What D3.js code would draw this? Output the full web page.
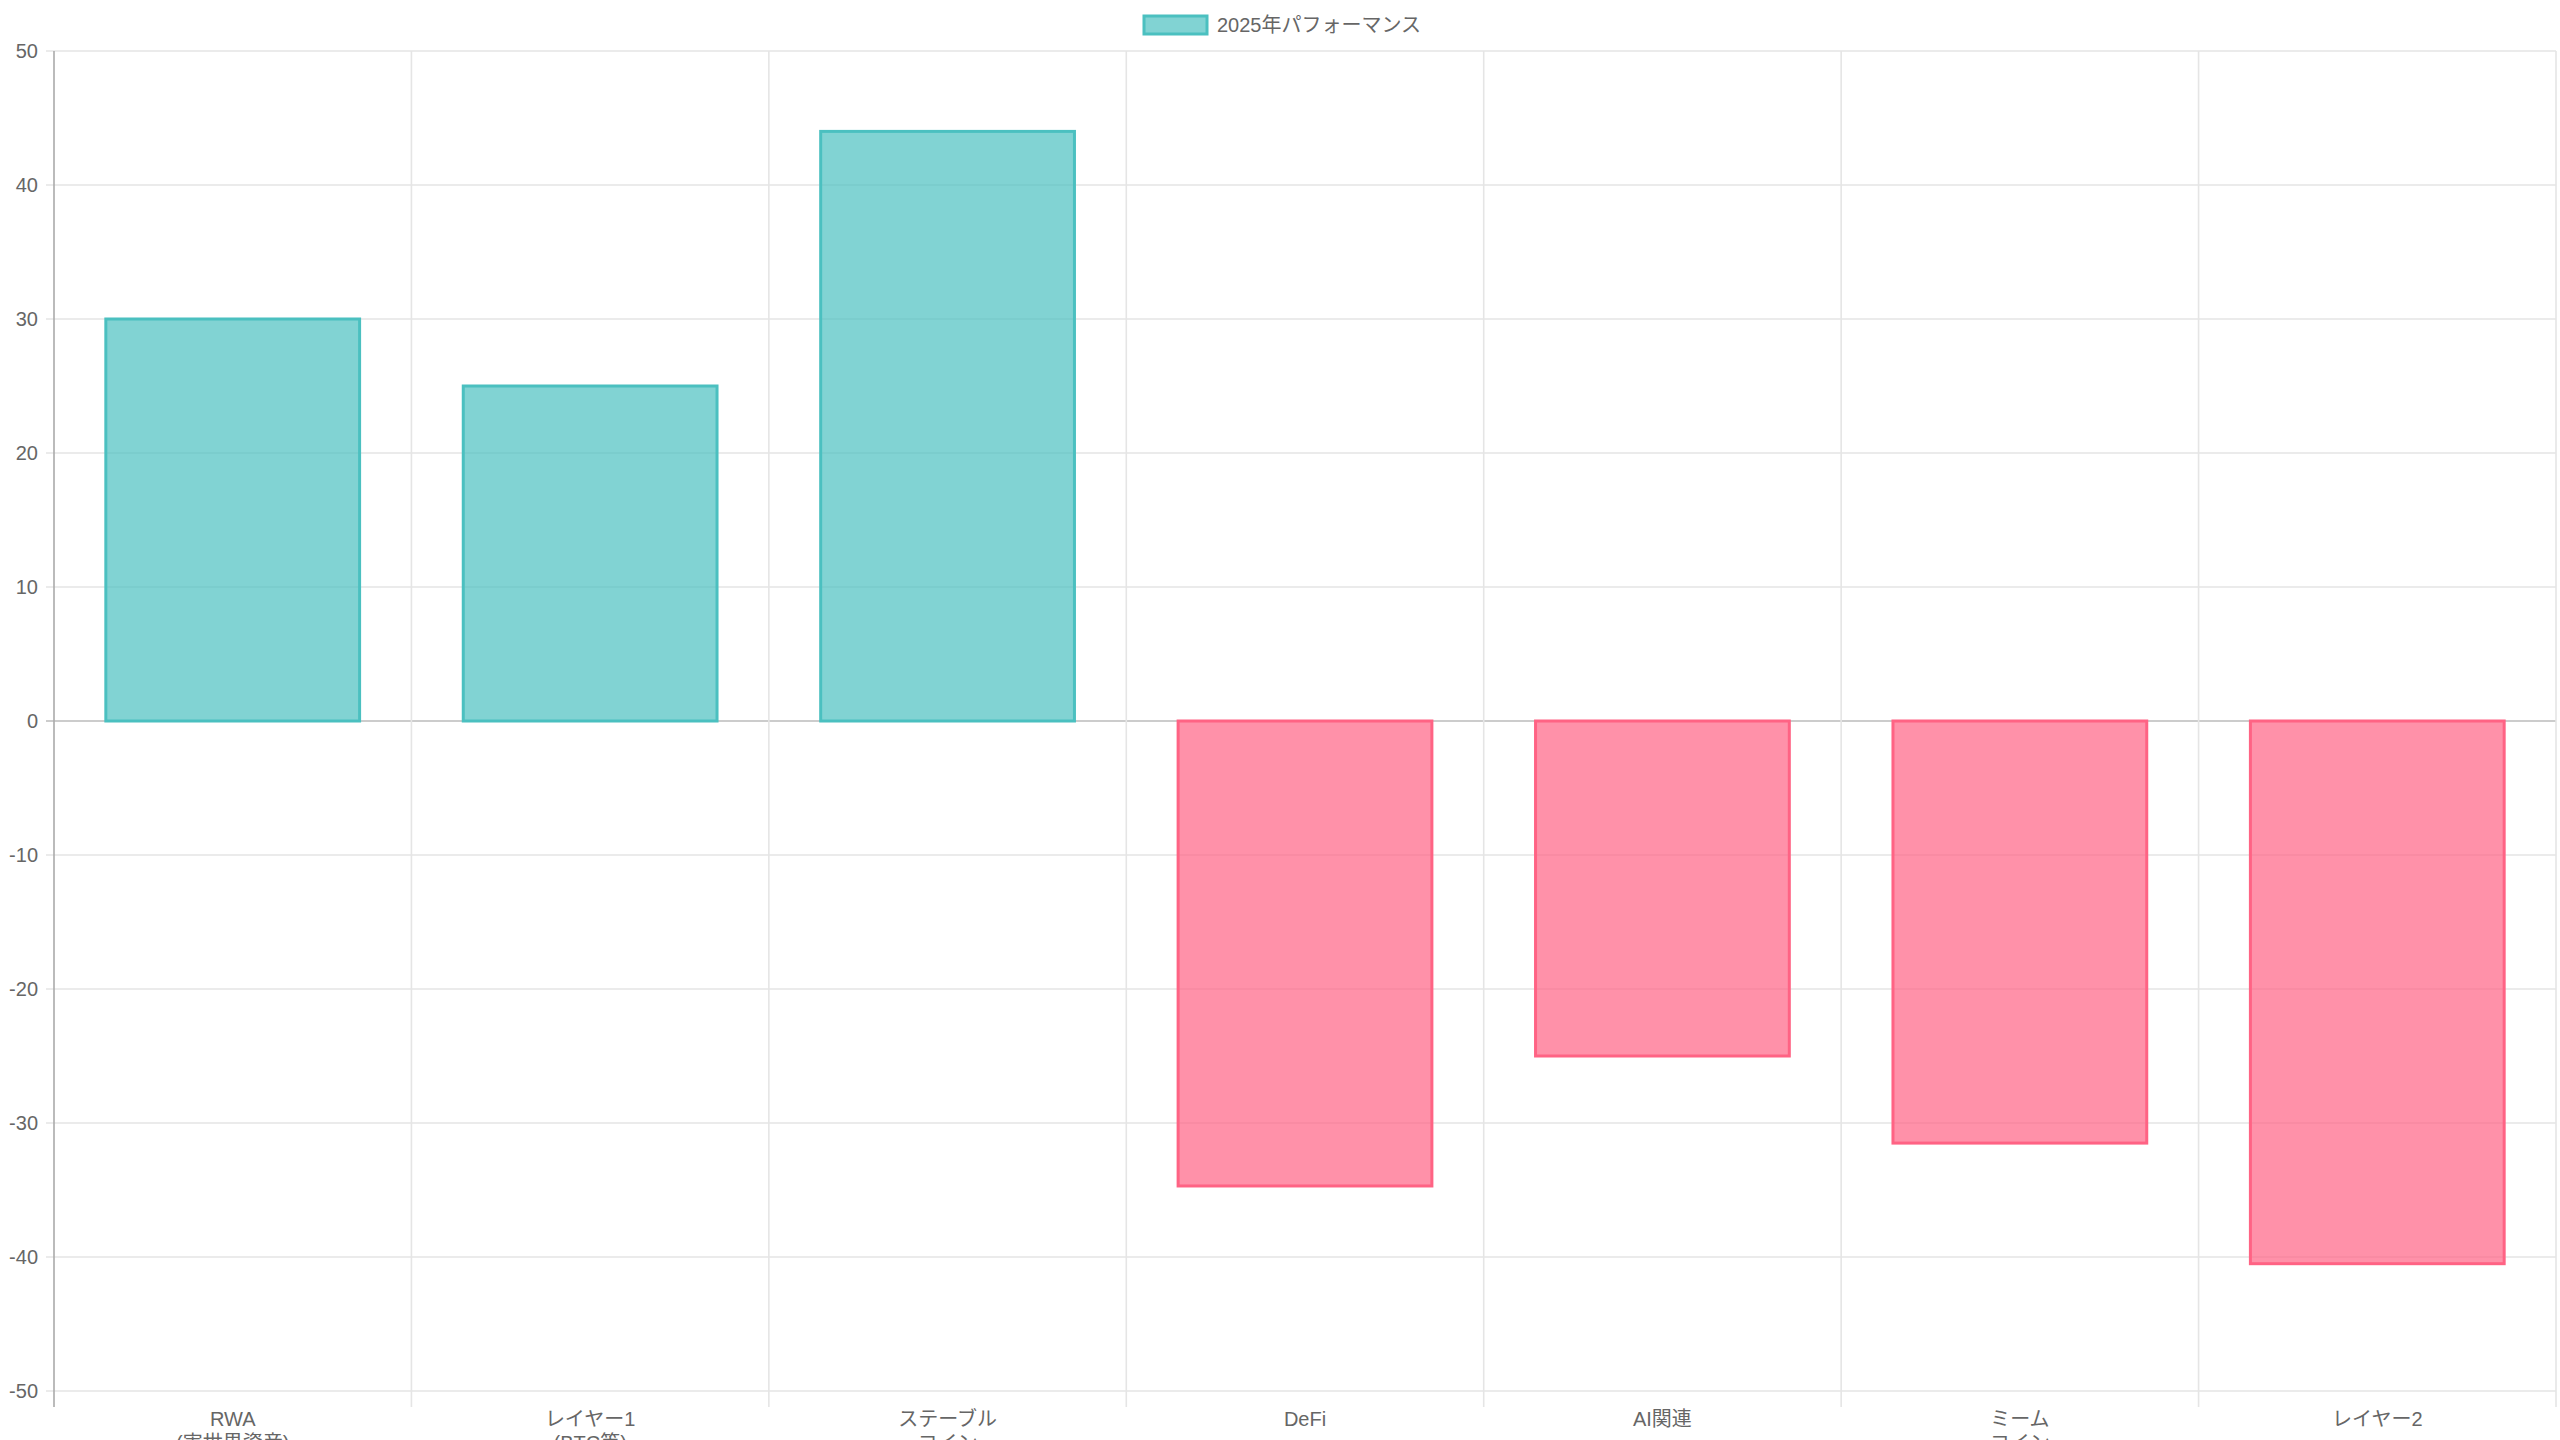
<!DOCTYPE html><html><head><meta charset="utf-8"><script src="https://cdn.jsdelivr.net/npm/d3@7"></script>
<style>body{margin:0;background:#fff}svg{display:block}</style></head><body><svg id="c" width="2560" height="1440"></svg>
<script>
const categories=[["RWA","(実世界資産)"],["レイヤー1","(BTC等)"],["ステーブル","コイン"],["DeFi"],["AI関連"],["ミーム","コイン"],["レイヤー2"]];
const values=[30,25,44,-34.7,-25,-31.5,-40.5];
const yTicks=[50,40,30,20,10,0,-10,-20,-30,-40,-50];
const legendLabel="2025年パフォーマンス";
const font="'Liberation Sans', 'Noto Sans CJK JP', sans-serif";
const svg=d3.select("#c");
const L=54,R=2556,T=51,B=1391;
const x=d3.scaleBand().domain(d3.range(categories.length)).range([L,R]);
const y=d3.scaleLinear().domain([-50,50]).range([B,T]);
const g=svg.append("g");
g.selectAll(".hg").data(yTicks).join("line").attr("x1",L-8).attr("x2",R).attr("y1",d=>y(d)).attr("y2",d=>y(d))
 .attr("stroke",d=>d===0?"#bbb":"#e5e5e5").attr("stroke-width",1.6);
const bounds=d3.range(categories.length+1).map(i=>i<categories.length?x(i):R);
g.selectAll(".vg").data(bounds).join("line").attr("x1",d=>d).attr("x2",d=>d).attr("y1",T).attr("y2",B+16)
 .attr("stroke",(d,i)=>i===0?"#aaa":"#e5e5e5").attr("stroke-width",1.6);
g.selectAll(".yt").data(yTicks).join("text").attr("x",L-16).attr("y",d=>y(d)).attr("dy","0.35em")
 .attr("text-anchor","end").attr("font-family",font).attr("font-size",20).attr("fill","#666").text(d=>d);
const bw=x.bandwidth()*0.71;
g.selectAll(".bar").data(values).join("rect")
 .attr("x",(d,i)=>x(i)+(x.bandwidth()-bw)/2).attr("width",bw)
 .attr("y",d=>y(Math.max(0,d))).attr("height",d=>Math.abs(y(d)-y(0)))
 .attr("fill",d=>d>=0?"rgba(75,192,192,0.7)":"rgba(255,99,132,0.7)")
 .attr("stroke",d=>d>=0?"rgb(75,192,192)":"rgb(255,99,132)").attr("stroke-width",3);
const xl=g.selectAll(".xl").data(categories).join("text").attr("x",(d,i)=>x(i)+x.bandwidth()/2).attr("y",1426)
 .attr("text-anchor","middle").attr("font-family",font).attr("font-size",20).attr("fill","#666");
xl.selectAll("tspan").data(d=>d).join("tspan").attr("x",function(){return this.parentNode.getAttribute("x")}).attr("dy",(d,i)=>i?"1.2em":0).text(d=>d);
const lg=svg.append("g");
lg.append("rect").attr("x",1144).attr("y",16).attr("width",63).attr("height",18).attr("fill","rgba(75,192,192,0.7)").attr("stroke","rgb(75,192,192)").attr("stroke-width",3);
lg.append("text").attr("x",1217).attr("y",25).attr("dy","0.35em").attr("font-family",font).attr("font-size",20).attr("fill","#666").text(legendLabel);
</script></body></html>
